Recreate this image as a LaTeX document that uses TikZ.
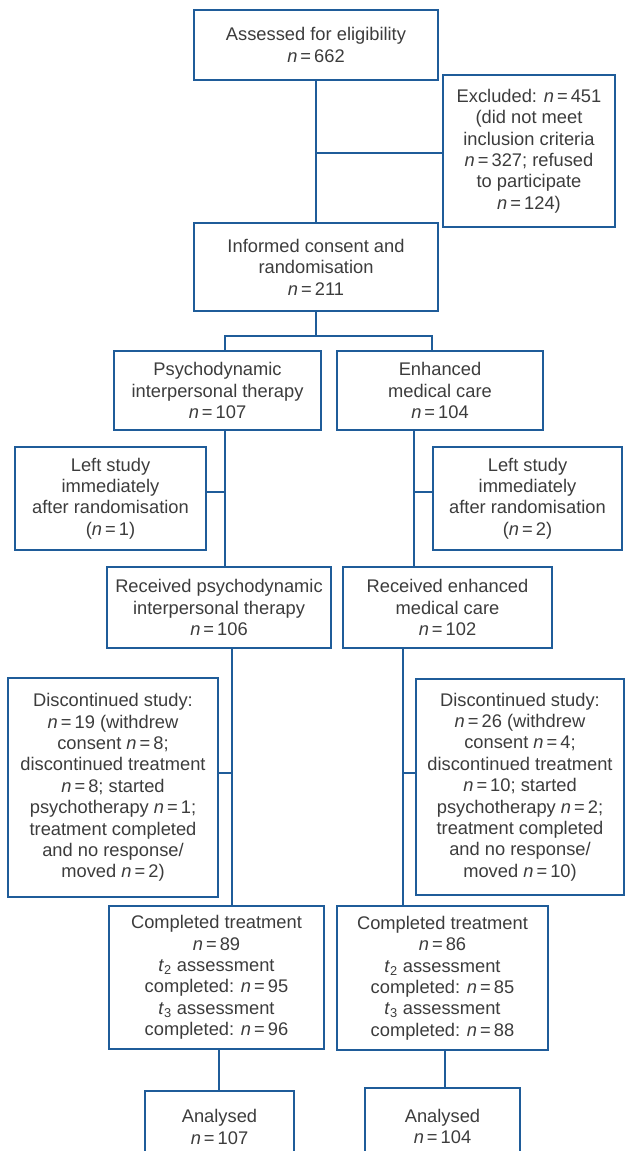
\documentclass[tikz,border=0pt]{standalone}
\usepackage{fontspec}
\setmainfont{Liberation Sans}
\definecolor{lineblue}{HTML}{1F5C99}
\definecolor{txt}{HTML}{3C3C3C}
\newcommand{\nvar}{\textit{n}\,=\,}
\newcommand{\tsub}[1]{\textit{t}\textsubscript{#1}}
\begin{document}
\begin{tikzpicture}[x=1pt,y=-1pt,
  box/.style={draw=lineblue, line width=1.9pt, align=center, text=txt, inner sep=0pt,
    font=\fontsize{18.3}{21.4}\selectfont},
  link/.style={draw=lineblue, line width=1.9pt}]
\useasboundingbox (0,0) rectangle (626,1151);
\clip (0,0) rectangle (626,1151);

\node[box, minimum width=244pt, minimum height=70pt] (assess) at (316,45)
  {Assessed for eligibility\\\nvar 662};
\node[box, minimum width=172pt, minimum height=152pt] (excl) at (529,151)
  {Excluded: \nvar 451\\(did not meet\\inclusion criteria\\\nvar 327; refused\\to participate\\\nvar 124)};
\node[box, minimum width=244pt, minimum height=88pt] (consent) at (316,267)
  {Informed consent and\\randomisation\\\nvar 211};
\node[box, minimum width=207pt, minimum height=79pt] (psy) at (217.5,390.5)
  {Psychodynamic\\interpersonal therapy\\\nvar 107};
\node[box, minimum width=206pt, minimum height=79pt] (emc) at (440,390.5)
  {Enhanced\\medical care\\\nvar 104};
\node[box, minimum width=191pt, minimum height=103pt] (leftL) at (110.5,498.5)
  {Left study\\immediately\\after randomisation\\(\nvar 1)};
\node[box, minimum width=189pt, minimum height=103pt] (leftR) at (527.5,498.5)
  {Left study\\immediately\\after randomisation\\(\nvar 2)};
\node[box, minimum width=224pt, minimum height=81pt] (recL) at (219,607.5)
  {Received psychodynamic\\interpersonal therapy\\\nvar 106};
\node[box, minimum width=209pt, minimum height=81pt] (recR) at (447.5,607.5)
  {Received enhanced\\medical care\\\nvar 102};
\node[box, minimum width=210pt, minimum height=219pt] (discL) at (113,787.5)
  {Discontinued study:\\\nvar 19 (withdrew\\consent \nvar 8;\\discontinued treatment\\\nvar 8; started\\psychotherapy \nvar 1;\\treatment completed\\and no response/\\moved \nvar 2)};
\node[box, minimum width=208pt, minimum height=216pt] (discR) at (520,787)
  {Discontinued study:\\\nvar 26 (withdrew\\consent \nvar 4;\\discontinued treatment\\\nvar 10; started\\psychotherapy \nvar 2;\\treatment completed\\and no response/\\moved \nvar 10)};
\node[box, minimum width=215pt, minimum height=143pt] (compL) at (216.5,977.5)
  {Completed treatment\\\nvar 89\\\tsub{2} assessment\\completed: \nvar 95\\\tsub{3} assessment\\completed: \nvar 96};
\node[box, minimum width=211pt, minimum height=144pt] (compR) at (442.5,978)
  {Completed treatment\\\nvar 86\\\tsub{2} assessment\\completed: \nvar 85\\\tsub{3} assessment\\completed: \nvar 88};
\node[box, minimum width=149pt, minimum height=72pt] (anaL) at (219.5,1127)
  {Analysed\\\nvar 107};
\node[box, minimum width=155pt, minimum height=77pt] (anaR) at (442.5,1126.5)
  {Analysed\\\nvar 104};

% junction coordinates
\coordinate (j1) at (316,153);
\coordinate (s1) at (316,336);
\coordinate (bL) at (225,336);
\coordinate (bR) at (432,336);
\coordinate (cL) at (225,492);
\coordinate (cR) at (414,492);
\coordinate (dL) at (232,773);
\coordinate (dR) at (403,773);
\coordinate (eL) at (219,1070);
\coordinate (eR) at (445,1070);

\draw[link] (assess.south) -- (consent.north);
\draw[link] (j1) -- (j1 -| excl.west);
\draw[link] (consent.south) -- (s1);
\draw[link] (bL |- psy.north) -- (bL) -- (bR) -- (bR |- emc.north);
\draw[link] (cL |- psy.south) -- (cL |- recL.north);
\draw[link] (cL) -- (cL -| leftL.east);
\draw[link] (cR |- emc.south) -- (cR |- recR.north);
\draw[link] (cR) -- (cR -| leftR.west);
\draw[link] (dL |- recL.south) -- (dL |- compL.north);
\draw[link] (dL) -- (dL -| discL.east);
\draw[link] (dR |- recR.south) -- (dR |- compR.north);
\draw[link] (dR) -- (dR -| discR.west);
\draw[link] (eL |- compL.south) -- (eL |- anaL.north);
\draw[link] (eR |- compR.south) -- (eR |- anaR.north);
\end{tikzpicture}
\end{document}
